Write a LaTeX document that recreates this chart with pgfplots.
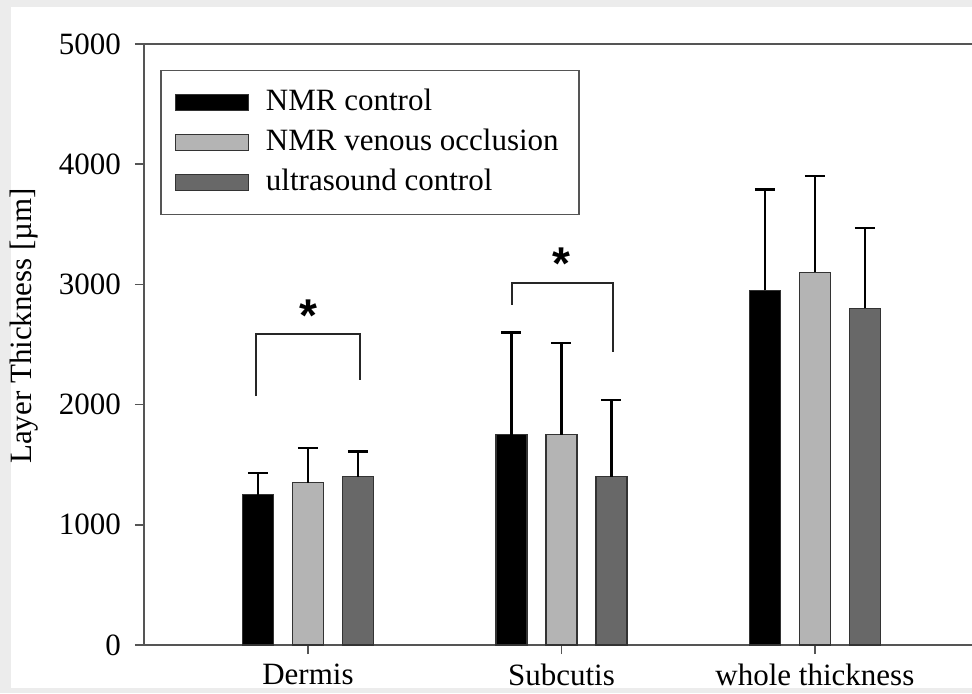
\documentclass[border=0pt]{standalone}
\usepackage{pgfplots}
\pgfplotsset{compat=1.18}
\usepackage{fontspec}
\setmainfont{Liberation Serif}
\newfontfamily\starfont{Liberation Sans}
\definecolor{lgray}{HTML}{B4B4B4}
\definecolor{dgray}{HTML}{686868}
\definecolor{axgray}{HTML}{555555}
\definecolor{bggray}{HTML}{ECECEC}
\definecolor{edgegray}{HTML}{333333}
\newcommand{\fs}{\fontsize{15.5}{18}\selectfont}
\begin{document}
\begin{tikzpicture}
\fill[bggray] (0,0) rectangle (486pt,346.5pt);
\fill[white] (5.5pt,2.5pt) rectangle (486pt,343pt);
\begin{axis}[
  at={(72pt,24pt)}, anchor=south west, scale only axis,
  width=414pt, height=300.5pt,
  ybar, bar width=15.5pt,
  xmin=-0.647, xmax=2.62, ymin=0, ymax=5000,
  axis y line*=left,
  axis line style={draw=axgray, line width=0.8pt},
  tick style={draw=axgray, line width=0.8pt},
  tick align=outside, major tick length=4.5pt,
  xtick pos=bottom, ytick pos=left,
  xtick={0,1,2},
  xticklabels={Dermis, Subcutis, whole thickness},
  ytick={0,1000,2000,3000,4000,5000},
  scaled ticks=false,
  /pgf/number format/assume math mode=true,
  yticklabel style={font=\fs, /pgf/number format/1000 sep={}, xshift=-3.5pt},
  xticklabel style={font=\fs, yshift=-1.3pt},
  ylabel={Layer Thickness [µm]},
  ylabel style={font=\fs, at={(axis description cs:-0.145,0.531)}, anchor=center, rotate=0},
  legend image code/.code={\draw[#1] (0pt,-4pt) rectangle (36.5pt,4pt);},
  legend style={at={(axis description cs:0.0193,0.957)}, anchor=north west,
    draw=axgray, line width=0.8pt, font=\fs, inner xsep=7pt, inner ysep=6pt,
    row sep=0pt, column sep=5.5pt,
    nodes={inner sep=3pt, text height=11pt, text depth=3pt}},
  legend cell align=left,
  clip=false,
  every axis plot/.append style={draw=edgegray, line width=0.6pt},
  error bars/y dir=plus,
  error bars/y explicit,
  error bars/error mark=|,
  error bars/error bar style={line width=1.1pt, black},
  error bars/error mark options={line width=1.1pt, mark size=5pt, black},
]
\addplot[fill=black, bar shift=-25pt] coordinates {
  (0,1250) +- (0,180)
  (1,1750) +- (0,850)
  (2,2950) +- (0,840)
};
\addlegendentry{NMR control}
\addplot[fill=lgray, bar shift=0pt] coordinates {
  (0,1350) +- (0,290)
  (1,1750) +- (0,760)
  (2,3100) +- (0,800)
};
\addlegendentry{NMR venous occlusion}
\addplot[fill=dgray, bar shift=25pt] coordinates {
  (0,1400) +- (0,210)
  (1,1400) +- (0,640)
  (2,2800) +- (0,670)
};
\addlegendentry{ultrasound control}
\draw[line width=1pt, black!85] (axis cs:-0.205,2071) -- (axis cs:-0.205,2587) -- (axis cs:0.205,2587) -- (axis cs:0.205,2205);
\draw[line width=1pt, black!85] (axis cs:0.805,2829) -- (axis cs:0.805,3012) -- (axis cs:1.205,3012) -- (axis cs:1.205,2438);
\node[font=\starfont\bfseries\fontsize{23}{23}\selectfont, anchor=base, yshift=-10.8pt] at (axis cs:0,2787) {*};
\node[font=\starfont\bfseries\fontsize{23}{23}\selectfont, anchor=base, yshift=-10.8pt] at (axis cs:1,3220) {*};
\end{axis}
\pgfresetboundingbox
\useasboundingbox (0,0) rectangle (486pt,346.5pt);
\end{tikzpicture}
\end{document}
